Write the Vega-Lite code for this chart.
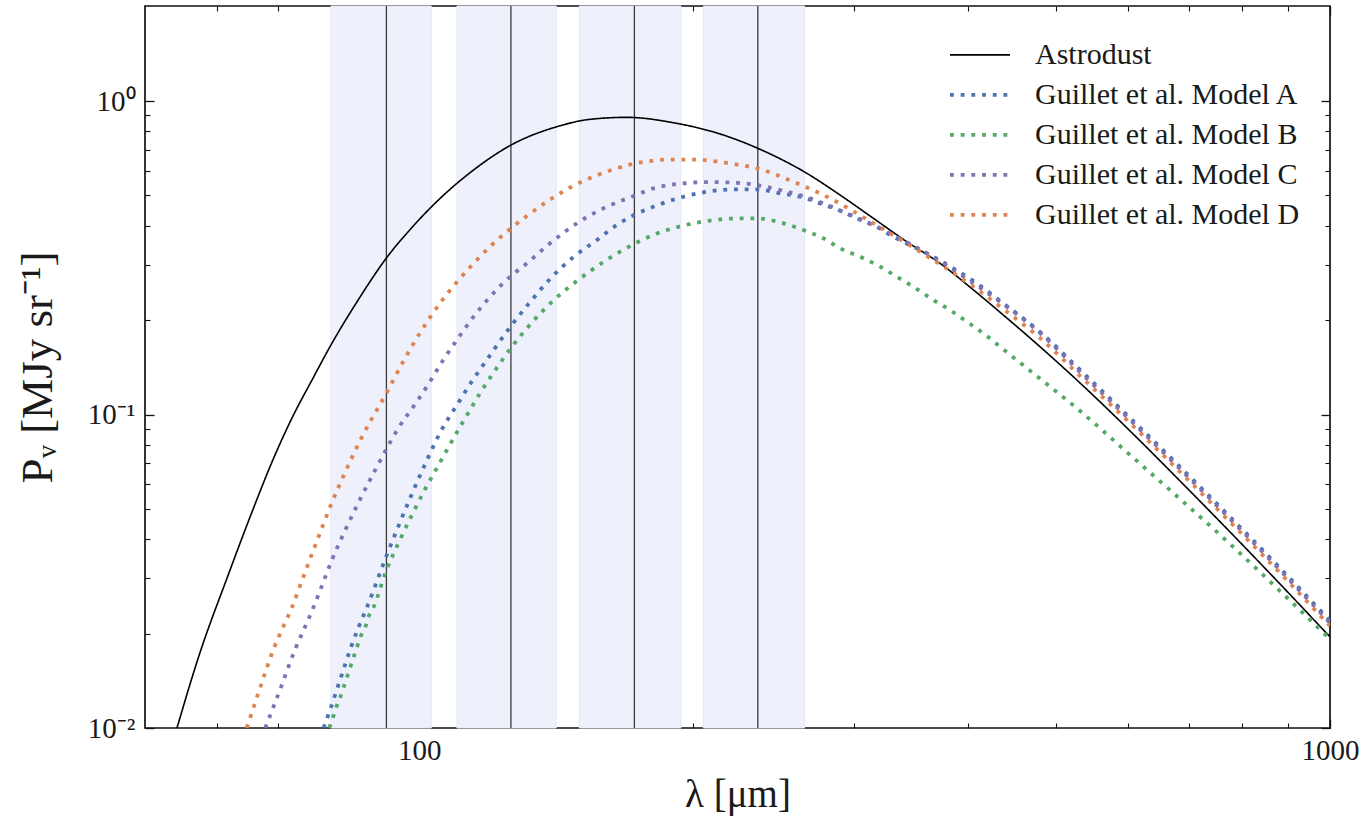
{
  "$schema": "https://vega.github.io/schema/vega-lite/v6.json",
  "width": 1185,
  "height": 722,
  "autosize": {"type": "none"},
  "padding": {"left": 145, "top": 6, "right": 42, "bottom": 91},
  "background": "#ffffff",
  "config": {
    "view": {"stroke": "#111111", "strokeWidth": 1.7},
    "font": "Liberation Serif",
    "axis": {
      "grid": false,
      "domain": false,
      "labelFont": "Liberation Serif",
      "titleFont": "Liberation Serif",
      "labelColor": "#1a1a1a",
      "titleColor": "#1a1a1a",
      "tickColor": "#111111",
      "titleFontWeight": "normal"
    },
    "legend": {
      "orient": "none",
      "legendX": 803,
      "legendY": 29,
      "padding": 0,
      "labelFont": "Liberation Serif",
      "labelFontSize": 30,
      "labelColor": "#1a1a1a",
      "labelLimit": 600,
      "symbolType": "stroke",
      "symbolSize": 3600,
      "labelOffset": 23,
      "clipHeight": 39.7,
      "rowPadding": 0
    }
  },
  "datasets": {
    "bands": [
      {"lo": 80.0, "hi": 103.1, "center": 92.05},
      {"lo": 110.0, "hi": 141.4, "center": 126.1},
      {"lo": 149.9, "hi": 193.8, "center": 172.3},
      {"lo": 205.1, "hi": 264.9, "center": 235.4}
    ],
    "sed": [
      {"series": "Astrodust", "lam": 54.21, "P": 0.0100},
      {"series": "Astrodust", "lam": 57.25, "P": 0.01685},
      {"series": "Astrodust", "lam": 61.76, "P": 0.03099},
      {"series": "Astrodust", "lam": 65.53, "P": 0.04887},
      {"series": "Astrodust", "lam": 68.93, "P": 0.07056},
      {"series": "Astrodust", "lam": 72.50, "P": 0.09746},
      {"series": "Astrodust", "lam": 76.26, "P": 0.1288},
      {"series": "Astrodust", "lam": 80.00, "P": 0.1666},
      {"series": "Astrodust", "lam": 85.78, "P": 0.2329},
      {"series": "Astrodust", "lam": 92.05, "P": 0.3157},
      {"series": "Astrodust", "lam": 98.17, "P": 0.3949},
      {"series": "Astrodust", "lam": 105.45, "P": 0.4894},
      {"series": "Astrodust", "lam": 114.71, "P": 0.6024},
      {"series": "Astrodust", "lam": 126.13, "P": 0.7237},
      {"series": "Astrodust", "lam": 141.65, "P": 0.8282},
      {"series": "Astrodust", "lam": 154.05, "P": 0.8743},
      {"series": "Astrodust", "lam": 169.05, "P": 0.8872},
      {"series": "Astrodust", "lam": 190.15, "P": 0.8527},
      {"series": "Astrodust", "lam": 215.80, "P": 0.7790},
      {"series": "Astrodust", "lam": 235.42, "P": 0.7064},
      {"series": "Astrodust", "lam": 266.46, "P": 0.5880},
      {"series": "Astrodust", "lam": 289.80, "P": 0.5014},
      {"series": "Astrodust", "lam": 315.26, "P": 0.4226},
      {"series": "Astrodust", "lam": 343.05, "P": 0.3558},
      {"series": "Astrodust", "lam": 373.22, "P": 0.3035},
      {"series": "Astrodust", "lam": 406.06, "P": 0.2496},
      {"series": "Astrodust", "lam": 441.74, "P": 0.2032},
      {"series": "Astrodust", "lam": 480.49, "P": 0.1645},
      {"series": "Astrodust", "lam": 531.7, "P": 0.1260},
      {"series": "Astrodust", "lam": 603.3, "P": 0.08859},
      {"series": "Astrodust", "lam": 684.6, "P": 0.06134},
      {"series": "Astrodust", "lam": 776.8, "P": 0.04219},
      {"series": "Astrodust", "lam": 881.3, "P": 0.02880},
      {"series": "Astrodust", "lam": 1000, "P": 0.01952},

      {"series": "Guillet et al. Model A", "lam": 78.53, "P": 0.0100},
      {"series": "Guillet et al. Model A", "lam": 80.00, "P": 0.01164},
      {"series": "Guillet et al. Model A", "lam": 81.36, "P": 0.01348},
      {"series": "Guillet et al. Model A", "lam": 82.74, "P": 0.01562},
      {"series": "Guillet et al. Model A", "lam": 84.16, "P": 0.01809},
      {"series": "Guillet et al. Model A", "lam": 85.78, "P": 0.02095},
      {"series": "Guillet et al. Model A", "lam": 87.63, "P": 0.02427},
      {"series": "Guillet et al. Model A", "lam": 92.05, "P": 0.03538},
      {"series": "Guillet et al. Model A", "lam": 94.90, "P": 0.04409},
      {"series": "Guillet et al. Model A", "lam": 98.17, "P": 0.05577},
      {"series": "Guillet et al. Model A", "lam": 101.53, "P": 0.06953},
      {"series": "Guillet et al. Model A", "lam": 105.45, "P": 0.08762},
      {"series": "Guillet et al. Model A", "lam": 110.0, "P": 0.1072},
      {"series": "Guillet et al. Model A", "lam": 114.71, "P": 0.1298},
      {"series": "Guillet et al. Model A", "lam": 119.66, "P": 0.1548},
      {"series": "Guillet et al. Model A", "lam": 125.86, "P": 0.1901},
      {"series": "Guillet et al. Model A", "lam": 132.39, "P": 0.2285},
      {"series": "Guillet et al. Model A", "lam": 139.22, "P": 0.2706},
      {"series": "Guillet et al. Model A", "lam": 147.69, "P": 0.3180},
      {"series": "Guillet et al. Model A", "lam": 156.69, "P": 0.3602},
      {"series": "Guillet et al. Model A", "lam": 164.82, "P": 0.4023},
      {"series": "Guillet et al. Model A", "lam": 172.19, "P": 0.4329},
      {"series": "Guillet et al. Model A", "lam": 180.80, "P": 0.4601},
      {"series": "Guillet et al. Model A", "lam": 195.10, "P": 0.4952},
      {"series": "Guillet et al. Model A", "lam": 206.93, "P": 0.5137},
      {"series": "Guillet et al. Model A", "lam": 223.22, "P": 0.5229},
      {"series": "Guillet et al. Model A", "lam": 234.86, "P": 0.5229},
      {"series": "Guillet et al. Model A", "lam": 249.06, "P": 0.5077},
      {"series": "Guillet et al. Model A", "lam": 261.98, "P": 0.4952},
      {"series": "Guillet et al. Model A", "lam": 275.57, "P": 0.4717},
      {"series": "Guillet et al. Model A", "lam": 289.80, "P": 0.4468},
      {"series": "Guillet et al. Model A", "lam": 302.34, "P": 0.4225},
      {"series": "Guillet et al. Model A", "lam": 318.0, "P": 0.3972},
      {"series": "Guillet et al. Model A", "lam": 331.63, "P": 0.3690},
      {"series": "Guillet et al. Model A", "lam": 348.82, "P": 0.3430},
      {"series": "Guillet et al. Model A", "lam": 366.90, "P": 0.3187},
      {"series": "Guillet et al. Model A", "lam": 385.92, "P": 0.2927},
      {"series": "Guillet et al. Model A", "lam": 409.41, "P": 0.2621},
      {"series": "Guillet et al. Model A", "lam": 437.90, "P": 0.2263},
      {"series": "Guillet et al. Model A", "lam": 480.49, "P": 0.1833},
      {"series": "Guillet et al. Model A", "lam": 531.7, "P": 0.1387},
      {"series": "Guillet et al. Model A", "lam": 603.3, "P": 0.09746},
      {"series": "Guillet et al. Model A", "lam": 684.6, "P": 0.06802},
      {"series": "Guillet et al. Model A", "lam": 776.8, "P": 0.04710},
      {"series": "Guillet et al. Model A", "lam": 881.3, "P": 0.03239},
      {"series": "Guillet et al. Model A", "lam": 1000, "P": 0.02195},

      {"series": "Guillet et al. Model B", "lam": 79.67, "P": 0.0100},
      {"series": "Guillet et al. Model B", "lam": 80.42, "P": 0.01082},
      {"series": "Guillet et al. Model B", "lam": 81.09, "P": 0.01164},
      {"series": "Guillet et al. Model B", "lam": 81.91, "P": 0.01253},
      {"series": "Guillet et al. Model B", "lam": 82.60, "P": 0.01348},
      {"series": "Guillet et al. Model B", "lam": 83.31, "P": 0.01451},
      {"series": "Guillet et al. Model B", "lam": 84.01, "P": 0.01562},
      {"series": "Guillet et al. Model B", "lam": 84.71, "P": 0.01681},
      {"series": "Guillet et al. Model B", "lam": 85.44, "P": 0.01809},
      {"series": "Guillet et al. Model B", "lam": 86.16, "P": 0.01947},
      {"series": "Guillet et al. Model B", "lam": 87.25, "P": 0.02095},
      {"series": "Guillet et al. Model B", "lam": 87.98, "P": 0.02265},
      {"series": "Guillet et al. Model B", "lam": 89.10, "P": 0.02427},
      {"series": "Guillet et al. Model B", "lam": 92.05, "P": 0.03191},
      {"series": "Guillet et al. Model B", "lam": 94.90, "P": 0.03892},
      {"series": "Guillet et al. Model B", "lam": 98.17, "P": 0.04780},
      {"series": "Guillet et al. Model B", "lam": 101.53, "P": 0.05786},
      {"series": "Guillet et al. Model B", "lam": 104.13, "P": 0.06604},
      {"series": "Guillet et al. Model B", "lam": 107.25, "P": 0.07706},
      {"series": "Guillet et al. Model B", "lam": 111.85, "P": 0.09534},
      {"series": "Guillet et al. Model B", "lam": 116.66, "P": 0.1171},
      {"series": "Guillet et al. Model B", "lam": 122.73, "P": 0.1460},
      {"series": "Guillet et al. Model B", "lam": 126.13, "P": 0.1631},
      {"series": "Guillet et al. Model B", "lam": 132.39, "P": 0.1937},
      {"series": "Guillet et al. Model B", "lam": 139.22, "P": 0.2260},
      {"series": "Guillet et al. Model B", "lam": 148.97, "P": 0.2666},
      {"series": "Guillet et al. Model B", "lam": 159.32, "P": 0.3064},
      {"series": "Guillet et al. Model B", "lam": 170.47, "P": 0.3447},
      {"series": "Guillet et al. Model B", "lam": 182.36, "P": 0.3778},
      {"series": "Guillet et al. Model B", "lam": 195.10, "P": 0.4008},
      {"series": "Guillet et al. Model B", "lam": 208.67, "P": 0.4157},
      {"series": "Guillet et al. Model B", "lam": 221.31, "P": 0.4219},
      {"series": "Guillet et al. Model B", "lam": 234.86, "P": 0.4225},
      {"series": "Guillet et al. Model B", "lam": 251.14, "P": 0.4074},
      {"series": "Guillet et al. Model B", "lam": 264.18, "P": 0.3878},
      {"series": "Guillet et al. Model B", "lam": 277.88, "P": 0.3647},
      {"series": "Guillet et al. Model B", "lam": 289.80, "P": 0.3390},
      {"series": "Guillet et al. Model B", "lam": 304.87, "P": 0.3187},
      {"series": "Guillet et al. Model B", "lam": 320.67, "P": 0.2962},
      {"series": "Guillet et al. Model B", "lam": 334.49, "P": 0.2752},
      {"series": "Guillet et al. Model B", "lam": 348.82, "P": 0.2557},
      {"series": "Guillet et al. Model B", "lam": 366.90, "P": 0.2319},
      {"series": "Guillet et al. Model B", "lam": 382.71, "P": 0.2154},
      {"series": "Guillet et al. Model B", "lam": 399.21, "P": 0.1978},
      {"series": "Guillet et al. Model B", "lam": 416.30, "P": 0.1816},
      {"series": "Guillet et al. Model B", "lam": 434.25, "P": 0.1646},
      {"series": "Guillet et al. Model B", "lam": 452.98, "P": 0.1492},
      {"series": "Guillet et al. Model B", "lam": 472.38, "P": 0.1353},
      {"series": "Guillet et al. Model B", "lam": 531.7, "P": 0.1026},
      {"series": "Guillet et al. Model B", "lam": 603.3, "P": 0.07429},
      {"series": "Guillet et al. Model B", "lam": 684.6, "P": 0.05376},
      {"series": "Guillet et al. Model B", "lam": 776.8, "P": 0.03863},
      {"series": "Guillet et al. Model B", "lam": 881.3, "P": 0.02735},
      {"series": "Guillet et al. Model B", "lam": 1000, "P": 0.01922},

      {"series": "Guillet et al. Model C", "lam": 67.77, "P": 0.0100},
      {"series": "Guillet et al. Model C", "lam": 69.10, "P": 0.01158},
      {"series": "Guillet et al. Model C", "lam": 70.39, "P": 0.01332},
      {"series": "Guillet et al. Model C", "lam": 71.70, "P": 0.01542},
      {"series": "Guillet et al. Model C", "lam": 73.11, "P": 0.01787},
      {"series": "Guillet et al. Model C", "lam": 74.66, "P": 0.02054},
      {"series": "Guillet et al. Model C", "lam": 76.26, "P": 0.02362},
      {"series": "Guillet et al. Model C", "lam": 77.88, "P": 0.02756},
      {"series": "Guillet et al. Model C", "lam": 80.20, "P": 0.03435},
      {"series": "Guillet et al. Model C", "lam": 82.96, "P": 0.04281},
      {"series": "Guillet et al. Model C", "lam": 85.78, "P": 0.05240},
      {"series": "Guillet et al. Model C", "lam": 89.48, "P": 0.06653},
      {"series": "Guillet et al. Model C", "lam": 92.05, "P": 0.07763},
      {"series": "Guillet et al. Model C", "lam": 94.90, "P": 0.09057},
      {"series": "Guillet et al. Model C", "lam": 98.99, "P": 0.1080},
      {"series": "Guillet et al. Model C", "lam": 102.38, "P": 0.1251},
      {"series": "Guillet et al. Model C", "lam": 106.25, "P": 0.1492},
      {"series": "Guillet et al. Model C", "lam": 110.0, "P": 0.1729},
      {"series": "Guillet et al. Model C", "lam": 114.71, "P": 0.2050},
      {"series": "Guillet et al. Model C", "lam": 119.66, "P": 0.2376},
      {"series": "Guillet et al. Model C", "lam": 125.86, "P": 0.2752},
      {"series": "Guillet et al. Model C", "lam": 131.28, "P": 0.3035},
      {"series": "Guillet et al. Model C", "lam": 139.22, "P": 0.3517},
      {"series": "Guillet et al. Model C", "lam": 148.97, "P": 0.4074},
      {"series": "Guillet et al. Model C", "lam": 159.32, "P": 0.4547},
      {"series": "Guillet et al. Model C", "lam": 171.90, "P": 0.4977},
      {"series": "Guillet et al. Model C", "lam": 180.80, "P": 0.5267},
      {"series": "Guillet et al. Model C", "lam": 195.10, "P": 0.5464},
      {"series": "Guillet et al. Model C", "lam": 206.93, "P": 0.5516},
      {"series": "Guillet et al. Model C", "lam": 217.66, "P": 0.5504},
      {"series": "Guillet et al. Model C", "lam": 234.86, "P": 0.5396},
      {"series": "Guillet et al. Model C", "lam": 249.06, "P": 0.5202},
      {"series": "Guillet et al. Model C", "lam": 266.46, "P": 0.4930},
      {"series": "Guillet et al. Model C", "lam": 294.81, "P": 0.4383},
      {"series": "Guillet et al. Model C", "lam": 326.14, "P": 0.3829},
      {"series": "Guillet et al. Model C", "lam": 360.83, "P": 0.3268},
      {"series": "Guillet et al. Model C", "lam": 406.06, "P": 0.2621},
      {"series": "Guillet et al. Model C", "lam": 441.74, "P": 0.2207},
      {"series": "Guillet et al. Model C", "lam": 480.49, "P": 0.1820},
      {"series": "Guillet et al. Model C", "lam": 531.7, "P": 0.1366},
      {"series": "Guillet et al. Model C", "lam": 603.3, "P": 0.09604},
      {"series": "Guillet et al. Model C", "lam": 684.6, "P": 0.06702},
      {"series": "Guillet et al. Model C", "lam": 776.8, "P": 0.04642},
      {"series": "Guillet et al. Model C", "lam": 881.3, "P": 0.03191},
      {"series": "Guillet et al. Model C", "lam": 1000, "P": 0.02163},

      {"series": "Guillet et al. Model D", "lam": 64.67, "P": 0.0100},
      {"series": "Guillet et al. Model D", "lam": 65.79, "P": 0.01164},
      {"series": "Guillet et al. Model D", "lam": 66.91, "P": 0.01348},
      {"series": "Guillet et al. Model D", "lam": 68.06, "P": 0.01562},
      {"series": "Guillet et al. Model D", "lam": 69.32, "P": 0.01809},
      {"series": "Guillet et al. Model D", "lam": 70.87, "P": 0.02095},
      {"series": "Guillet et al. Model D", "lam": 72.50, "P": 0.02427},
      {"series": "Guillet et al. Model D", "lam": 74.60, "P": 0.03031},
      {"series": "Guillet et al. Model D", "lam": 77.29, "P": 0.03978},
      {"series": "Guillet et al. Model D", "lam": 80.00, "P": 0.05145},
      {"series": "Guillet et al. Model D", "lam": 82.96, "P": 0.06556},
      {"series": "Guillet et al. Model D", "lam": 86.52, "P": 0.08477},
      {"series": "Guillet et al. Model D", "lam": 92.05, "P": 0.1171},
      {"series": "Guillet et al. Model D", "lam": 96.52, "P": 0.1514},
      {"series": "Guillet et al. Model D", "lam": 100.68, "P": 0.1861},
      {"series": "Guillet et al. Model D", "lam": 105.45, "P": 0.2268},
      {"series": "Guillet et al. Model D", "lam": 110.0, "P": 0.2647},
      {"series": "Guillet et al. Model D", "lam": 114.71, "P": 0.3031},
      {"series": "Guillet et al. Model D", "lam": 119.66, "P": 0.3435},
      {"series": "Guillet et al. Model D", "lam": 125.86, "P": 0.3906},
      {"series": "Guillet et al. Model D", "lam": 131.28, "P": 0.4297},
      {"series": "Guillet et al. Model D", "lam": 139.82, "P": 0.4887},
      {"series": "Guillet et al. Model D", "lam": 146.44, "P": 0.5298},
      {"series": "Guillet et al. Model D", "lam": 154.05, "P": 0.5681},
      {"series": "Guillet et al. Model D", "lam": 161.35, "P": 0.5981},
      {"series": "Guillet et al. Model D", "lam": 170.47, "P": 0.6274},
      {"series": "Guillet et al. Model D", "lam": 179.30, "P": 0.6437},
      {"series": "Guillet et al. Model D", "lam": 188.58, "P": 0.6508},
      {"series": "Guillet et al. Model D", "lam": 200.0, "P": 0.6508},
      {"series": "Guillet et al. Model D", "lam": 210.41, "P": 0.6437},
      {"series": "Guillet et al. Model D", "lam": 221.31, "P": 0.6297},
      {"series": "Guillet et al. Model D", "lam": 234.86, "P": 0.6101},
      {"series": "Guillet et al. Model D", "lam": 257.58, "P": 0.5528},
      {"series": "Guillet et al. Model D", "lam": 285.0, "P": 0.4831},
      {"series": "Guillet et al. Model D", "lam": 315.26, "P": 0.4074},
      {"series": "Guillet et al. Model D", "lam": 354.77, "P": 0.3306},
      {"series": "Guillet et al. Model D", "lam": 406.06, "P": 0.2557},
      {"series": "Guillet et al. Model D", "lam": 441.74, "P": 0.2128},
      {"series": "Guillet et al. Model D", "lam": 480.49, "P": 0.1754},
      {"series": "Guillet et al. Model D", "lam": 531.7, "P": 0.1327},
      {"series": "Guillet et al. Model D", "lam": 603.3, "P": 0.09396},
      {"series": "Guillet et al. Model D", "lam": 684.6, "P": 0.06556},
      {"series": "Guillet et al. Model D", "lam": 776.8, "P": 0.04541},
      {"series": "Guillet et al. Model D", "lam": 881.3, "P": 0.03122},
      {"series": "Guillet et al. Model D", "lam": 1000, "P": 0.02115}
    ]
  },
  "layer": [
    {
      "data": {"name": "bands"},
      "mark": {"type": "rect", "fill": "#eef1fc", "stroke": "#e2e8f8", "strokeWidth": 1},
      "encoding": {
        "x": {
          "field": "lo", "type": "quantitative",
          "scale": {"type": "log", "domain": [50, 1000], "nice": false},
          "axis": {
            "orient": "bottom", "values": [100, 1000], "format": "d",
            "ticks": false, "labelFontSize": 29, "labelPadding": 8,
            "labelFlush": false, "labelOverlap": false, "labelBound": false,
            "title": "λ [μm]", "titleFontSize": 39, "titlePadding": 10
          }
        },
        "x2": {"field": "hi"}
      }
    },
    {
      "data": {"name": "bands"},
      "mark": {"type": "rule", "color": "#3a3a3a", "strokeWidth": 1.3},
      "encoding": {
        "x": {
          "field": "center", "type": "quantitative",
          "scale": {"type": "log", "domain": [50, 1000], "nice": false},
          "axis": {"orient": "bottom", "values": [100, 1000], "labels": false, "tickSize": -9, "tickWidth": 1.3, "title": null}
        }
      }
    },
    {
      "data": {"name": "sed"},
      "mark": {"type": "line", "clip": true, "interpolate": "monotone"},
      "encoding": {
        "x": {
          "field": "lam", "type": "quantitative",
          "scale": {"type": "log", "domain": [50, 1000], "nice": false},
          "axis": {"orient": "bottom", "values": [60, 70, 80, 90, 200, 300, 400, 500, 600, 700, 800, 900], "labels": false, "tickSize": -5, "tickWidth": 1.1, "title": null}
        },
        "y": {
          "field": "P", "type": "quantitative",
          "scale": {"type": "log", "domain": [0.01, 2.01], "nice": false},
          "axis": {
            "orient": "left", "values": [0.01, 0.1, 1], "ticks": false,
            "labelExpr": "datum.value > 0.5 ? '10⁰' : datum.value > 0.05 ? '10⁻¹' : '10⁻²'",
            "labelFontSize": 29, "labelPadding": 10,
            "title": "Pᵥ [MJy sr⁻¹]", "titleFontSize": 45, "titlePadding": 27
          }
        },
        "color": {
          "field": "series", "type": "nominal",
          "scale": {
            "domain": ["Astrodust", "Guillet et al. Model A", "Guillet et al. Model B", "Guillet et al. Model C", "Guillet et al. Model D"],
            "range": ["#000000", "#4c72b0", "#55a868", "#8172b3", "#dd8452"]
          },
          "legend": {"title": null}
        },
        "strokeDash": {
          "field": "series", "type": "nominal",
          "scale": {
            "domain": ["Astrodust", "Guillet et al. Model A", "Guillet et al. Model B", "Guillet et al. Model C", "Guillet et al. Model D"],
            "range": [[1, 0], [3.8, 6.9], [3.8, 6.9], [3.8, 6.9], [3.8, 6.9]]
          },
          "legend": {"title": null}
        },
        "strokeWidth": {
          "field": "series", "type": "nominal",
          "scale": {
            "type": "ordinal",
            "domain": ["Astrodust", "Guillet et al. Model A", "Guillet et al. Model B", "Guillet et al. Model C", "Guillet et al. Model D"],
            "range": [1.6, 3.8, 3.8, 3.8, 3.8]
          },
          "legend": {"title": null}
        }
      }
    },
    {
      "data": {"name": "sed"},
      "mark": {"type": "point", "opacity": 0},
      "encoding": {
        "x": {
          "field": "lam", "type": "quantitative",
          "scale": {"type": "log", "domain": [50, 1000], "nice": false},
          "axis": {"orient": "top", "values": [100, 1000], "labels": false, "tickSize": -9, "tickWidth": 1.3, "title": null}
        },
        "y": {
          "field": "P", "type": "quantitative",
          "scale": {"type": "log", "domain": [0.01, 2.01], "nice": false},
          "axis": {"orient": "left", "values": [0.01, 0.1, 1], "labels": false, "tickSize": -9, "tickWidth": 1.3, "title": null}
        }
      }
    },
    {
      "data": {"name": "sed"},
      "mark": {"type": "point", "opacity": 0},
      "encoding": {
        "x": {
          "field": "lam", "type": "quantitative",
          "scale": {"type": "log", "domain": [50, 1000], "nice": false},
          "axis": {"orient": "top", "values": [60, 70, 80, 90, 200, 300, 400, 500, 600, 700, 800, 900], "labels": false, "tickSize": -5, "tickWidth": 1.1, "title": null}
        },
        "y": {
          "field": "P", "type": "quantitative",
          "scale": {"type": "log", "domain": [0.01, 2.01], "nice": false},
          "axis": {"orient": "left", "values": [0.02, 0.03, 0.04, 0.05, 0.06, 0.07, 0.08, 0.09, 0.2, 0.3, 0.4, 0.5, 0.6, 0.7, 0.8, 0.9], "labels": false, "tickSize": -5, "tickWidth": 1.1, "title": null}
        }
      }
    },
    {
      "data": {"name": "sed"},
      "mark": {"type": "point", "opacity": 0},
      "encoding": {
        "x": {"field": "lam", "type": "quantitative", "scale": {"type": "log", "domain": [50, 1000], "nice": false}, "axis": null},
        "y": {
          "field": "P", "type": "quantitative",
          "scale": {"type": "log", "domain": [0.01, 2.01], "nice": false},
          "axis": {"orient": "right", "values": [0.01, 0.1, 1], "labels": false, "tickSize": -9, "tickWidth": 1.3, "title": null}
        }
      }
    },
    {
      "data": {"name": "sed"},
      "mark": {"type": "point", "opacity": 0},
      "encoding": {
        "x": {"field": "lam", "type": "quantitative", "scale": {"type": "log", "domain": [50, 1000], "nice": false}, "axis": null},
        "y": {
          "field": "P", "type": "quantitative",
          "scale": {"type": "log", "domain": [0.01, 2.01], "nice": false},
          "axis": {"orient": "right", "values": [0.02, 0.03, 0.04, 0.05, 0.06, 0.07, 0.08, 0.09, 0.2, 0.3, 0.4, 0.5, 0.6, 0.7, 0.8, 0.9], "labels": false, "tickSize": -5, "tickWidth": 1.1, "title": null}
        }
      }
    }
  ],
  "resolve": {"axis": {"x": "independent", "y": "independent"}}
}
